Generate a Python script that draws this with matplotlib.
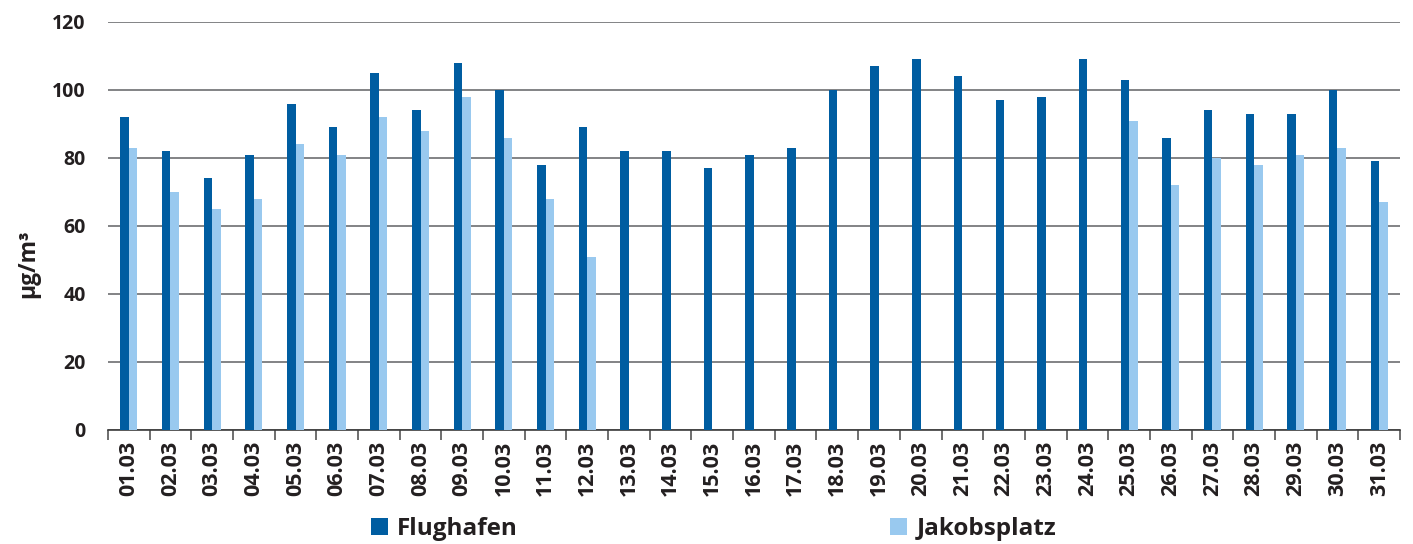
import matplotlib.pyplot as plt
import numpy as np

days = [f"{d:02d}.03" for d in range(1, 32)]

flughafen = [92, 82, 74, 81, 96, 89, 105, 94, 108, 100, 78, 89, 82, 82, 77, 81,
             83, 100, 107, 109, 104, 97, 98, 109, 103, 86, 94, 93, 93, 100, 79]
jakobsplatz = [83, 70, 65, 68, 84, 81, 92, 88, 98, 86, 68, 51,
               np.nan, np.nan, np.nan, np.nan, np.nan, np.nan,
               np.nan, np.nan, np.nan, np.nan, np.nan, np.nan,
               91, 72, 80, 78, 81, 83, 67]

DARK = '#005da1'
LIGHT = '#99c9ef'
TXT = '#231f20'

plt.rcParams['font.family'] = ['Open Sans', 'DejaVu Sans']
plt.rcParams['font.weight'] = 'bold'

fig = plt.figure(figsize=(14.13, 5.44), dpi=100)
ax = fig.add_axes([0.0764, 0.2096, 0.9144, 0.75])

x = np.arange(len(days))
w = 0.205
ax.bar(x - w / 2, flughafen, width=w, color=DARK, label='Flughafen', zorder=3)
ax.bar(x + w / 2, jakobsplatz, width=w, color=LIGHT, label='Jakobsplatz', zorder=3)

ax.set_xlim(-0.5, len(days) - 0.5)
ax.set_ylim(0, 120)
ax.set_yticks(range(0, 121, 20))
ax.yaxis.grid(True, color='#6d6e71', linewidth=1.2, zorder=0)
ax.set_axisbelow(True)

for s in ['left', 'right', 'top']:
    ax.spines[s].set_visible(False)
ax.spines['bottom'].set_color('#3c3c3c')
ax.spines['bottom'].set_linewidth(1.2)

# ticks sit on the category boundaries, labels at the centres
ax.set_xticks(np.arange(-0.5, len(days)), minor=True)
ax.set_xticks(x)
ax.set_xticklabels(days, rotation=90, fontsize=15.5, fontweight='bold', color=TXT)
ax.tick_params(axis='x', which='major', length=0, pad=8)
ax.tick_params(axis='x', which='minor', length=7, width=1.2, color='#555555')
ax.tick_params(axis='y', length=0, pad=16, labelsize=14, labelcolor=TXT)
for lbl in ax.get_yticklabels():
    lbl.set_fontweight('bold')

fig.text(28 / 1413, 0.515, 'µg/m³', rotation=90, ha='center', va='center',
         fontsize=16.5, fontweight='bold', color=TXT)

fig.legend(loc='lower center', bbox_to_anchor=(0.505, -0.035), ncol=2, frameon=False,
           handlelength=0.7, handleheight=0.7, handletextpad=0.4, columnspacing=15.3,
           prop={'size': 17.5, 'weight': 'bold'}, labelcolor=TXT)

fig.savefig('out.png', dpi=100)
